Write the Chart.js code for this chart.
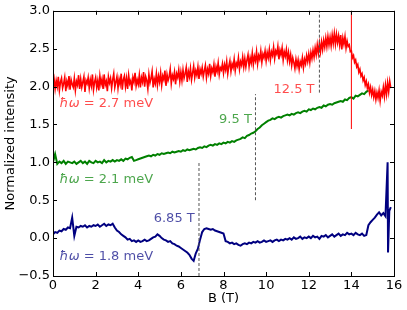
<!DOCTYPE html>
<html>
<head>
<meta charset="utf-8">
<script src="https://cdn.jsdelivr.net/npm/chart.js@4"></script>
<style>
  html, body { margin: 0; padding: 0; background: #fff; }
  canvas { display: block; }
</style>
</head>
<body>
<canvas id="chart" width="407" height="310"></canvas>
<script>
// field sweep B (T), sampled every redStep / otherStep
const redStep = 0.05;
const otherStep = 0.1;

// hw = 2.7 meV
const redValues = [
  2.02,2.10,1.97,2.08,2.00,2.13,1.95,2.06,2.11,1.98,2.04,2.12,1.94,2.07,2.01,2.14,1.96,2.09,2.03,1.99,
  2.11,1.95,2.07,2.02,2.15,1.97,2.10,1.99,2.06,2.13,1.93,2.08,2.04,2.12,1.98,2.09,2.01,2.16,1.96,2.06,
  2.12,1.99,2.08,1.95,2.14,2.03,2.10,1.97,2.16,2.02,2.07,1.94,2.13,2.05,2.11,1.98,2.09,2.17,1.99,2.06,
  2.13,1.98,2.10,2.03,2.17,1.96,2.09,2.14,2.00,2.11,1.97,2.15,2.04,2.08,1.95,2.12,2.06,2.18,2.01,2.09,
  2.03,2.15,1.99,2.12,2.06,2.19,2.00,2.13,2.08,1.97,2.16,2.05,2.11,2.20,1.99,2.10,2.04,2.17,2.02,2.14,
  2.06,2.18,2.02,2.14,2.09,2.21,2.01,2.16,2.08,2.13,2.23,2.04,2.15,2.10,2.19,2.03,2.17,2.12,2.22,2.07,
  2.19,2.08,2.22,2.11,2.17,2.25,2.06,2.20,2.13,2.24,2.09,2.18,2.27,2.12,2.21,2.15,2.26,2.10,2.23,2.17,
  2.25,2.13,2.21,2.28,2.12,2.23,2.17,2.30,2.14,2.24,2.19,2.29,2.13,2.26,2.20,2.31,2.16,2.25,2.22,2.30,
  2.18,2.29,2.22,2.33,2.17,2.27,2.34,2.20,2.30,2.25,2.36,2.21,2.31,2.27,2.38,2.23,2.33,2.28,2.39,2.26,
  2.37,2.26,2.35,2.42,2.27,2.38,2.31,2.44,2.29,2.40,2.34,2.46,2.30,2.41,2.36,2.47,2.32,2.43,2.38,2.47,
  2.34,2.45,2.38,2.49,2.35,2.46,2.41,2.52,2.37,2.47,2.43,2.53,2.36,2.48,2.42,2.51,2.35,2.46,2.40,2.49,
  2.35,2.45,2.33,2.42,2.28,2.38,2.32,2.24,2.36,2.27,2.35,2.23,2.33,2.28,2.38,2.25,2.36,2.30,2.41,2.33,
  2.43,2.32,2.45,2.37,2.48,2.39,2.51,2.42,2.55,2.44,2.57,2.46,2.59,2.49,2.61,2.52,2.64,2.53,2.66,2.55,
  2.65,2.54,2.68,2.57,2.70,2.56,2.69,2.58,2.67,2.55,2.68,2.49,2.64,2.56,2.66,2.51,2.60,2.53,2.55,2.46,
  2.47,2.38,2.41,2.32,2.35,2.26,2.29,2.19,2.23,2.14,2.17,2.08,2.12,2.02,2.07,1.98,2.03,1.92,1.99,1.89,
  1.96,1.86,1.94,1.83,1.92,1.85,1.95,1.81,1.93,1.88,1.99,1.87,2.02,1.90,2.05,1.93,2.07,1.98
];

// hw = 2.1 meV
const greenValues = [
  1.00,1.11,0.98,1.01,0.99,1.02,0.98,1.01,1.00,0.99,
  1.01,0.98,1.00,1.02,0.99,1.01,0.98,1.02,1.00,0.99,
  1.02,1.00,1.01,0.99,1.03,1.00,1.02,1.01,1.03,1.01,
  1.03,1.02,1.04,1.02,1.05,1.04,1.06,1.07,1.02,1.03,
  1.04,1.05,1.06,1.07,1.08,1.09,1.08,1.10,1.09,1.11,
  1.10,1.12,1.11,1.12,1.13,1.12,1.14,1.13,1.14,1.15,
  1.14,1.16,1.15,1.17,1.16,1.17,1.18,1.17,1.19,1.20,
  1.19,1.21,1.20,1.22,1.23,1.22,1.24,1.23,1.25,1.24,
  1.26,1.25,1.27,1.26,1.28,1.27,1.29,1.30,1.31,1.33,
  1.32,1.35,1.36,1.38,1.39,1.41,1.44,1.46,1.49,1.51,
  1.53,1.55,1.56,1.58,1.57,1.59,1.60,1.59,1.61,1.62,
  1.63,1.62,1.64,1.63,1.65,1.66,1.65,1.67,1.68,1.67,
  1.70,1.69,1.71,1.70,1.72,1.73,1.72,1.75,1.74,1.76,
  1.77,1.76,1.78,1.79,1.80,1.81,1.80,1.83,1.82,1.85,
  1.86,1.84,1.88,1.87,1.89,1.91,1.90,1.93,1.95
];

// hw = 1.8 meV
const blueValues = [
  0.05,0.08,0.07,0.10,0.09,0.12,0.11,0.14,0.13,0.27,
  0.03,0.15,0.14,0.16,0.15,0.17,0.14,0.16,0.15,0.17,
  0.16,0.18,0.15,0.17,0.19,0.16,0.18,0.17,0.19,0.14,
  0.10,0.08,0.05,0.03,0.01,-0.02,-0.01,-0.04,-0.03,-0.05,
  -0.03,-0.05,-0.04,-0.02,-0.04,-0.03,-0.01,0.01,0.02,0.05,
  0.03,0.00,-0.02,-0.03,-0.05,-0.04,-0.07,-0.08,-0.10,-0.11,
  -0.13,-0.15,-0.17,-0.19,-0.22,-0.27,-0.30,-0.20,-0.14,-0.02,
  0.08,0.12,0.13,0.12,0.11,0.12,0.10,0.09,0.08,0.07,
  0.06,-0.04,-0.05,-0.07,-0.06,-0.08,-0.07,-0.09,-0.10,-0.08,
  -0.07,-0.08,-0.06,-0.07,-0.05,-0.06,-0.04,-0.06,-0.05,-0.03,
  -0.05,-0.04,-0.03,-0.05,-0.03,-0.02,-0.04,-0.02,-0.03,-0.01,
  -0.02,0.00,-0.02,0.01,-0.01,0.00,0.02,-0.01,0.01,0.00,
  0.02,0.00,0.03,0.01,0.02,-0.01,0.03,0.02,0.04,0.01,
  0.03,0.05,0.02,0.04,0.06,0.03,0.05,0.04,0.07,0.05,
  0.06,0.04,0.07,0.05,0.04,0.06,0.03,0.04,0.17,0.21,
  0.24,0.27,0.31,0.34,0.30,0.33,0.29
];
// last few blue readings, incl. the glitch near 15.7 T
const blueTailB = [15.70, 15.72, 15.78, 15.85];
const blueTailValues = [1.00, -0.19, 0.36, 0.41];

// marker lines: [B, from, to]
const dashedMarks = [[6.85, -0.5, 1.0], [9.5, 0.5, 1.9], [12.5, 1.92, 3.0]];
const redMark = [14, 1.44, 3.0];

const xTicks = [0, 2, 4, 6, 8, 10, 12, 14, 16];
const yTicks = [-0.5, 0.0, 0.5, 1.0, 1.5, 2.0, 2.5, 3.0];

const FONT = "'DejaVu Sans', sans-serif";
const RED = "#ff0000", GREEN = "#008000", BLUE = "#000080";

const labels = [
  { hw: true, text: " = 2.7 meV", x: 0.31, y: 1.77, align: "left", color: "rgba(255,0,0,0.7)" },
  { text: "12.5 T", x: 12.27, y: 1.96, align: "right", color: "rgba(255,0,0,0.7)" },
  { text: "9.5 T", x: 9.33, y: 1.56, align: "right", color: "rgba(0,128,0,0.7)" },
  { hw: true, text: " = 2.1 meV", x: 0.31, y: 0.77, align: "left", color: "rgba(0,128,0,0.7)" },
  { text: "6.85 T", x: 6.65, y: 0.254, align: "right", color: "rgba(0,0,128,0.7)" },
  { hw: true, text: " = 1.8 meV", x: 0.31, y: -0.24, align: "left", color: "rgba(0,0,128,0.7)" },
];

function toPoints(values, step) {
  return values.map((v, i) => ({ x: +(i * step).toFixed(2), y: v }));
}

const bluePoints = toPoints(blueValues, otherStep)
  .concat(blueTailB.map((b, i) => ({ x: b, y: blueTailValues[i] })));

function markLine(m, color, dash) {
  return {
    data: [{ x: m[0], y: m[1] }, { x: m[0], y: m[2] }],
    borderColor: color,
    borderWidth: 1,
    borderDash: dash,
    pointRadius: 0,
  };
}

// frame + inward ticks on all four sides, then the text labels
const framePlugin = {
  id: "frame",
  afterDatasetsDraw(chart) {
    const { ctx, chartArea: a, scales: { x, y } } = chart;
    ctx.save();
    ctx.strokeStyle = "#000";
    ctx.lineWidth = 1;
    ctx.beginPath();
    xTicks.forEach((t) => {
      const px = Math.round(x.getPixelForValue(t)) + 0.5;
      ctx.moveTo(px, a.bottom); ctx.lineTo(px, a.bottom - 4);
      ctx.moveTo(px, a.top); ctx.lineTo(px, a.top + 4);
    });
    yTicks.forEach((t) => {
      const py = Math.round(y.getPixelForValue(t)) + 0.5;
      ctx.moveTo(a.left, py); ctx.lineTo(a.left + 4, py);
      ctx.moveTo(a.right, py); ctx.lineTo(a.right - 4, py);
    });
    ctx.stroke();
    ctx.strokeRect(Math.round(a.left) + 0.5, Math.round(a.top) + 0.5,
      Math.round(a.right - a.left), Math.round(a.bottom - a.top));

    ctx.textBaseline = "middle";
    labels.forEach((l) => {
      let px = x.getPixelForValue(l.x);
      const py = y.getPixelForValue(l.y);
      ctx.fillStyle = l.color;
      ctx.textAlign = "left";
      if (l.hw) {
        ctx.font = "italic 13px " + FONT;
        ctx.fillText("\u0127\u03c9", px, py);
        px += ctx.measureText("\u0127\u03c9").width;
        ctx.font = "13px " + FONT;
        ctx.fillText(l.text, px, py);
      } else {
        ctx.font = "13px " + FONT;
        ctx.textAlign = l.align;
        ctx.fillText(l.text, px, py);
      }
    });
    ctx.restore();
  },
};

new Chart(document.getElementById("chart"), {
  type: "line",
  data: {
    datasets: [
      markLine(dashedMarks[0], "#555", [3, 2]),
      markLine(dashedMarks[1], "#555", [3, 2]),
      markLine(dashedMarks[2], "#555", [3, 2]),
      markLine(redMark, RED, []),
      { data: toPoints(redValues, redStep), borderColor: RED, borderWidth: 1.6, pointRadius: 0 },
      { data: toPoints(greenValues, otherStep), borderColor: GREEN, borderWidth: 2, pointRadius: 0 },
      { data: bluePoints, borderColor: BLUE, borderWidth: 2, pointRadius: 0 },
    ],
  },
  options: {
    responsive: false,
    animation: false,
    devicePixelRatio: 1,
    layout: { padding: { left: 0, right: 13, top: 9, bottom: 0 } },
    plugins: { legend: { display: false }, tooltip: { enabled: false } },
    scales: {
      x: {
        type: "linear",
        min: 0, max: 16,
        grid: { display: false, drawTicks: false },
        border: { display: false },
        afterBuildTicks: (s) => { s.ticks = xTicks.map((v) => ({ value: v })); },
        afterFit: (s) => { s.height = 34; },
        ticks: { padding: 2, color: "#000", font: { family: FONT, size: 13 }, maxRotation: 0 },
        title: { display: true, text: "B (T)", color: "#000", font: { family: FONT, size: 13 }, padding: { top: 0, bottom: 4 } },
      },
      y: {
        min: -0.5, max: 3.0,
        grid: { display: false, drawTicks: false },
        border: { display: false },
        afterBuildTicks: (s) => { s.ticks = yTicks.map((v) => ({ value: v })); },
        afterFit: (s) => { s.width = 53; },
        ticks: {
          padding: 3, color: "#000", font: { family: FONT, size: 13 },
          callback: (v) => (v < 0 ? "\u2212" : "") + Math.abs(v).toFixed(1),
        },
        title: { display: true, text: "Normalized intensity", color: "#000", font: { family: FONT, size: 13 }, padding: { top: 3, bottom: 0 } },
      },
    },
  },
  plugins: [framePlugin],
});
</script>
</body>
</html>
